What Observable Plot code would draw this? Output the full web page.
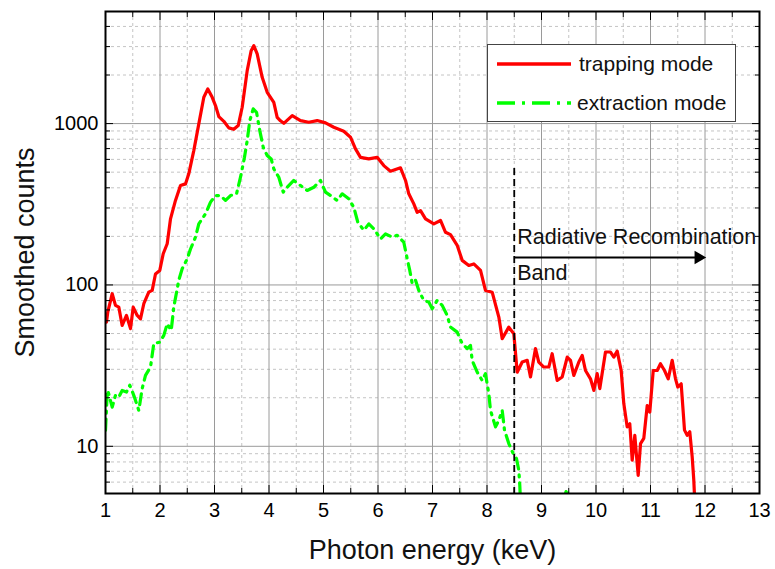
<!DOCTYPE html>
<html><head><meta charset="utf-8">
<script src="https://cdn.jsdelivr.net/npm/d3@7"></script>
<script src="https://cdn.jsdelivr.net/npm/@observablehq/plot@0.6"></script>
<style>
body{margin:0;background:#fff;}
#wrap{position:relative;width:775px;height:569px;font-family:"Liberation Sans",Arial,sans-serif;}
#legend{position:absolute;left:487px;top:44px;width:249px;height:78px;border:1px solid #444;background:#fff;box-sizing:border-box;}
#legend svg{display:block;}
</style></head>
<body><div id="wrap"></div>
<script>
// ---- data ----
const redE = [1.018,1.042,1.123,1.183,1.244,1.306,1.385,1.459,1.508,1.582,1.642,1.703,1.794,1.857,1.917,1.996,2.059,2.132,2.193,2.284,2.376,2.468,2.528,2.620,2.712,2.804,2.877,2.958,3.018,3.079,3.171,3.262,3.354,3.435,3.508,3.600,3.673,3.721,3.783,3.875,3.967,4.088,4.150,4.211,4.272,4.426,4.578,4.730,4.884,5.037,5.189,5.372,5.495,5.587,5.679,5.831,5.985,6.106,6.229,6.413,6.505,6.565,6.657,6.719,6.780,6.872,7.024,7.147,7.239,7.330,7.453,7.545,7.666,7.758,7.881,7.972,8.095,8.217,8.279,8.400,8.492,8.554,8.646,8.738,8.798,8.890,8.950,9.042,9.134,9.196,9.288,9.380,9.472,9.532,9.593,9.685,9.747,9.807,9.899,9.960,10.022,10.070,10.174,10.266,10.327,10.389,10.462,10.510,10.572,10.620,10.664,10.712,10.774,10.817,10.877,10.940,10.987,11.050,11.123,11.183,11.257,11.325,11.398,11.459,11.501,11.563,11.624,11.673,11.721,11.765,11.794,11.813];
const redC = [58.8,67.9,88.2,74.7,72.9,56.1,64.7,53.6,72.9,64.7,61.7,76.5,90.2,92.5,117,123,156,180,257,334,413,423,488,680,996,1455,1640,1455,1293,1105,1033,941,922,972,1262,2129,2831,3041,2702,1935,1562,1355,1094,1040,1004,1121,1044,1019,1044,1010,949,896,823,697,618,604,618,549,507,532,444,367,318,282,289,257,239,251,212,205,176,142,132,135,123,92.5,90.2,63.2,46.4,54.8,49.9,28.8,33.3,34.1,26.9,40.3,33.3,31.0,31.0,37.5,25.6,26.9,35.7,34.1,27.5,33.3,36.6,29.5,26.2,22.2,28.2,22.8,38.4,38.4,35.7,38.9,29.5,18.4,13.2,13.8,8.2,11.7,6.6,10.4,11.2,17.9,16.3,29.5,29.5,32.5,29.5,26.2,34.1,26.2,23.3,24.4,12.6,11.7,12.3,8.6,6.2,4.5];

const greenE = [1.0,1.031,1.042,1.123,1.183,1.244,1.306,1.385,1.446,1.519,1.611,1.673,1.734,1.826,1.886,1.996,2.070,2.132,2.206,2.253,2.345,2.407,2.499,2.560,2.651,2.712,2.835,2.927,3.018,3.110,3.202,3.294,3.404,3.477,3.550,3.600,3.648,3.710,3.771,3.831,3.894,3.967,4.040,4.088,4.180,4.261,4.334,4.455,4.578,4.701,4.822,4.945,5.037,5.128,5.251,5.343,5.464,5.556,5.629,5.740,5.831,5.923,6.046,6.138,6.261,6.352,6.473,6.536,6.583,6.628,6.688,6.749,6.840,6.932,6.995,7.086,7.178,7.270,7.330,7.453,7.545,7.637,7.697,7.728,7.820,7.912,7.972,8.033,8.064,8.156,8.217,8.279,8.321,8.400,8.481,8.541,8.584,8.602,8.615,9.40,9.46,9.52];
const greenC = [12.6,21.2,22.2,17.5,20.7,20.2,22.2,21.7,23.9,20.7,16.7,22.8,27.5,31.0,43.3,44.2,48.7,57.5,52.3,72.9,107,126,145,167,198,239,276,326,358,358,334,358,367,465,618,785,1044,1233,1175,905,713,634,604,524,465,376,403,444,413,385,403,444,376,358,334,367,342,303,245,218,239,223,193,207,198,203,184,145,123,102,107,92.5,80.2,78.3,71.2,80.2,74.7,64.7,54.8,51.0,43.3,40.3,42.2,34.1,28.8,25.6,28.2,21.2,16.7,13.2,14.5,16.7,12.6,10.4,9.0,8.4,7.1,5.7,4.5,4.5,5.4,4.5];
// green line is broken between these segments (index where the second piece starts)
const greenBreak = 99;

// axis ticks
const xMajor = d3.range(1, 14);
const xMinor = d3.range(1.5, 13, 1);
const yMajor = [10, 100, 1000];
const yMinor = [6,7,8,9,20,30,40,50,60,70,80,90,200,300,400,500,600,700,800,900,2000,3000,4000];

// annotation
const bandEdge = [8.5];
const bandTop = [526];
const arrowY = [148];
const arrowEnd = [11.88];
const annotLines = ["Radiative Recombination", "Band"];
const annotY = [197, 118];
const seriesNames = ["trapping mode", "extraction mode"];

const greenSeg = greenE.map((e, i) => ({e, c: greenC[i], s: i < greenBreak ? 0 : 1}));

const font = "'Liberation Sans', Arial, sans-serif";
const chart = Plot.plot({
  width: 775, height: 569,
  marginTop: 11, marginRight: 16, marginBottom: 76, marginLeft: 105,
  x: {domain: [1, 13]},
  y: {type: "log", domain: [5.1, 4950]},
  style: {fontFamily: font, background: "white", color: "black"},
  marks: [
    Plot.gridY(yMinor, {stroke: "#c4c4c4", strokeOpacity: 1, strokeDasharray: "3,3"}),
    Plot.gridX(xMinor, {stroke: "#c4c4c4", strokeOpacity: 1, strokeDasharray: "3,3"}),
    Plot.gridY(yMajor, {stroke: "#9a9a9a", strokeOpacity: 1}),
    Plot.gridX(xMajor, {stroke: "#9a9a9a", strokeOpacity: 1}),
    Plot.line(greenSeg, {x: "e", y: "c", z: "s", stroke: "#00ff00", strokeWidth: 3.2, strokeDasharray: "11,6,2,6", strokeLinecap: "round", clip: true}),
    Plot.line(redE, {x: redE, y: redC, stroke: "#ff0000", strokeWidth: 3.2, strokeLinejoin: "round", clip: true}),
    Plot.ruleX(bandEdge, {x: d => d, y1: bandTop[0], y2: 5.1, stroke: "black", strokeWidth: 1.8, strokeDasharray: "7,4"}),
    Plot.link(arrowY, {x1: bandEdge[0], x2: arrowEnd[0] - 0.05, y1: d => d, y2: d => d, stroke: "black", strokeWidth: 2}),
    Plot.dot(arrowY, {x: arrowEnd[0], y: d => d, symbol: "triangle", rotate: 90, r: 5, fill: "black", stroke: null}),
    Plot.text(annotLines, {x: bandEdge[0], y: (d, i) => annotY[i], text: d => d, textAnchor: "start", dx: 3, fontSize: 21.5, fill: "#111"}),
    // ticks (inward) and labels
    Plot.axisX(xMajor, {anchor: "bottom", tickSize: -8, tickFormat: () => "", label: null}),
    Plot.axisX(xMinor, {anchor: "bottom", tickSize: -5, tickFormat: () => "", label: null}),
    Plot.axisX(xMajor, {anchor: "top", tickSize: -8, tickFormat: () => "", label: null}),
    Plot.axisX(xMinor, {anchor: "top", tickSize: -5, tickFormat: () => "", label: null}),
    Plot.axisX(xMajor, {anchor: "bottom", tickSize: 0, tickPadding: 9, fontSize: 20, label: null, tickFormat: d => String(d)}),
    Plot.axisY(yMajor, {anchor: "left", tickSize: -8, tickFormat: () => "", label: null}),
    Plot.axisY(yMinor, {anchor: "left", tickSize: -5, tickFormat: () => "", label: null}),
    Plot.axisY(yMajor, {anchor: "right", tickSize: -8, tickFormat: () => "", label: null}),
    Plot.axisY(yMinor, {anchor: "right", tickSize: -5, tickFormat: () => "", label: null}),
    Plot.axisY(yMajor, {anchor: "left", tickSize: 0, tickPadding: 7, fontSize: 20, label: null, tickFormat: d => String(d)}),
    Plot.frame({stroke: "black", strokeWidth: 2}),
    Plot.text(["Photon energy (keV)"], {frameAnchor: "bottom", lineAnchor: "middle", dy: 57, fontSize: 27, fill: "#111"}),
    Plot.text(["Smoothed counts"], {frameAnchor: "left", textAnchor: "middle", lineAnchor: "middle", dx: -80, rotate: -90, fontSize: 27, fill: "#111"})
  ]
});
const wrap = document.getElementById("wrap");
wrap.appendChild(chart);

// legend
const lg = document.createElement("div");
lg.id = "legend";
lg.innerHTML = `<svg width="247" height="76">
  <line x1="9" x2="83" y1="19" y2="19" stroke="#ff0000" stroke-width="3.5"/>
  <text x="91" y="19" dy="0.35em" font-size="21" fill="#111" font-family="${font.replace(/'/g, "")}">${seriesNames[0]}</text>
  <line x1="9" x2="83" y1="58" y2="58" stroke="#00ff00" stroke-width="3.5" stroke-dasharray="18,7,3,7"/>
  <text x="89" y="58" dy="0.35em" font-size="21" fill="#111" font-family="${font.replace(/'/g, "")}">${seriesNames[1]}</text>
</svg>`;
wrap.appendChild(lg);
</script>
</body></html>
